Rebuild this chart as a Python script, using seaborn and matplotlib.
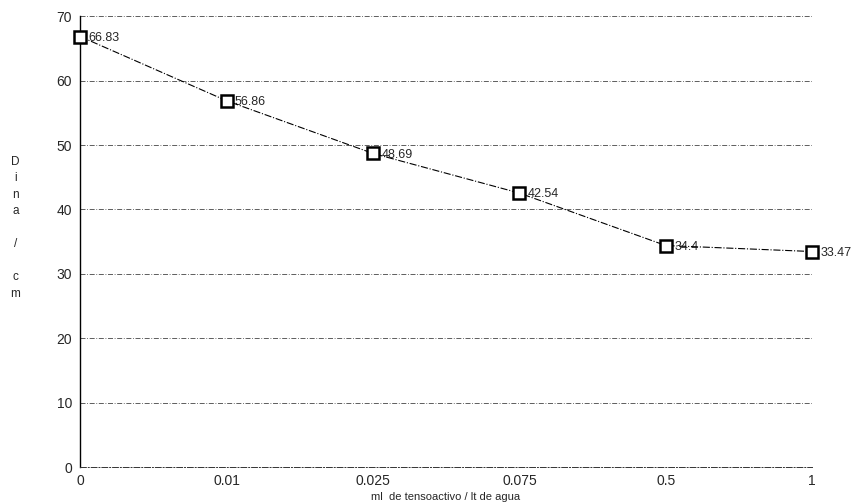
import pandas as pd
import matplotlib
matplotlib.use("Agg")
import matplotlib.pyplot as plt
import seaborn as sns

concentracion = ["0", "0.01", "0.025", "0.075", "0.5", "1"]
tension = [66.83, 56.86, 48.69, 42.54, 34.4, 33.47]
etiquetas = ["66.83", "56.86", "48.69", "42.54", "34.4", "33.47"]
y_ticks = [0, 10, 20, 30, 40, 50, 60, 70]

df = pd.DataFrame({"x": concentracion, "y": tension})

sns.set_style("white")
plt.rcParams["font.family"] = ["Liberation Sans", "DejaVu Sans"]

fig = plt.figure(figsize=(8.54, 5.04), dpi=100)
ax = fig.add_axes([0.094, 0.073, 0.857, 0.895])

sns.lineplot(data=df, x="x", y="y", sort=False, ax=ax, color="black",
             linestyle="-.", linewidth=0.8, marker="s", markersize=9,
             markerfacecolor="white", markeredgecolor="black",
             markeredgewidth=1.8, clip_on=False, zorder=5)

for i, (v, t) in enumerate(zip(tension, etiquetas)):
    ax.annotate(t, (i, v), xytext=(6, -1), textcoords="offset points",
                va="center", ha="left", fontsize=9, annotation_clip=False)

ax.set_ylim(0, 70)
ax.set_xlim(0, len(concentracion) - 1)
ax.set_yticks(y_ticks)
ax.set_xticks(range(len(concentracion)))
ax.set_xticklabels(concentracion)
ax.tick_params(axis="both", labelsize=10, length=3, color="black",
               direction="out", pad=3)
ax.tick_params(axis="x", length=0, pad=5)

ax.grid(axis="y", color="#444444", linestyle=(0, (6, 2, 1, 2)), linewidth=0.6)
ax.axvline(len(concentracion) - 1, color="#555555", linestyle=(0, (4, 3)),
           linewidth=0.7)
for s in ["top", "right"]:
    ax.spines[s].set_visible(False)
ax.spines["left"].set_color("black")
ax.spines["left"].set_linewidth(1.0)
ax.spines["bottom"].set_color("#333333")
ax.spines["bottom"].set_linestyle((0, (6, 2, 1, 2)))
ax.spines["bottom"].set_linewidth(0.7)

ax.set_xlabel("")
ax.set_ylabel("")
fig.text(0.522, 0.014, "ml  de tensoactivo / lt de agua", ha="center",
         va="center", fontsize=8)
fig.text(0.018, 0.548, "D\ni\nn\na\n\n/\n\nc\nm", ha="center", va="center",
         fontsize=8.5, linespacing=1.5)

fig.savefig("out.png", dpi=100)
